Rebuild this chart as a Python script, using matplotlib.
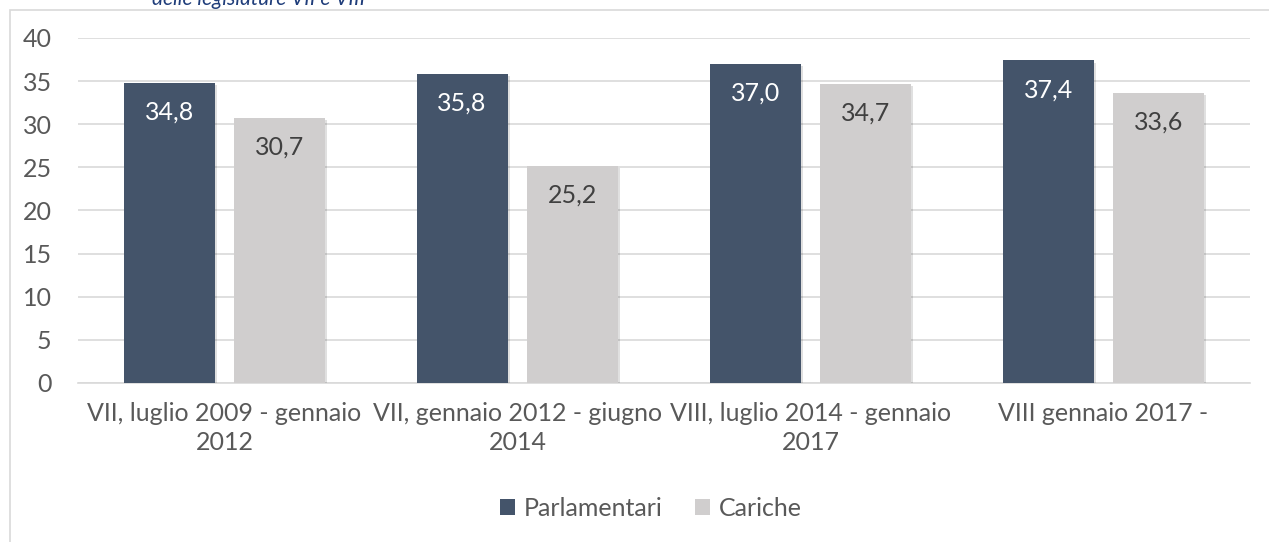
import matplotlib.pyplot as plt
import matplotlib.patheffects as pe
from matplotlib.patches import Rectangle
import numpy as np

categories = ["VII, luglio 2009 - gennaio\n2012",
              "VII, gennaio 2012 - giugno\n2014",
              "VIII, luglio 2014 - gennaio\n2017",
              "VIII gennaio 2017 -"]
parlamentari = [34.8, 35.8, 37.0, 37.4]
cariche = [30.7, 25.2, 34.7, 33.6]
series_names = ["Parlamentari", "Cariche"]
yticks = [0, 5, 10, 15, 20, 25, 30, 35, 40]

plt.rcParams['font.family'] = ['Lato', 'DejaVu Sans']

W, H = 1269, 542
fig = plt.figure(figsize=(W / 100, H / 100), dpi=100)

# outer chart-area border
fig.patches.append(Rectangle((10 / W, -0.05), 1.2, 1 - 10 / H + 0.05,
                             transform=fig.transFigure, fill=False,
                             edgecolor='#d9d9d9', linewidth=1.2))

# heading running off the top edge
fig.text(152 / W, 1 - 5 / H, "delle legislature VII e VIII", fontsize=15,
         style='italic', color='#1f3d7a', ha='left', va='baseline')

ax = fig.add_axes([78 / W, 1 - 383 / H, (1250 - 78) / W, (383 - 38) / H])

dark = '#44546a'
light = '#d0cece'
txt = '#595959'
fs = 18
x = np.arange(len(categories))
bw = 0.31
gap = 0.068
off = (bw + gap) / 2
shadow = [pe.SimplePatchShadow(offset=(1.5, -1.5), shadow_rgbFace='#000000', alpha=0.12), pe.Normal()]

b1 = ax.bar(x - off, parlamentari, bw, color=dark, label=series_names[0], zorder=3,
            path_effects=shadow)
b2 = ax.bar(x + off, cariche, bw, color=light, label=series_names[1], zorder=3,
            path_effects=shadow)

for bars, vals, col in [(b1, parlamentari, 'white'), (b2, cariche, '#404040')]:
    for r, v in zip(bars, vals):
        ax.annotate(f"{v:.1f}".replace('.', ','),
                    (r.get_x() + r.get_width() / 2, v),
                    xytext=(0, -21), textcoords='offset points',
                    ha='center', va='center', fontsize=fs, color=col, zorder=4)

ax.set_xlim(-0.5, len(categories) - 0.5)
ax.set_ylim(0, 40)
ax.set_yticks(yticks)
ax.set_yticklabels([str(t) for t in yticks])
ax.set_xticks(x)
ax.set_xticklabels(categories, linespacing=1.3)
ax.tick_params(axis='both', length=0, labelsize=fs, labelcolor=txt)
ax.tick_params(axis='y', pad=19)
ax.tick_params(axis='x', pad=14)
ax.grid(axis='y', color='#d9d9d9', linewidth=1.2, zorder=0)
ax.set_axisbelow(True)
for s in ['top', 'right', 'left']:
    ax.spines[s].set_visible(False)
ax.spines['bottom'].set_color('#d9d9d9')
ax.spines['bottom'].set_linewidth(1.2)

leg = fig.legend(handles=[b1, b2], labels=series_names, loc='center',
                 bbox_to_anchor=(651 / W, 1 - 508 / H), ncol=2, frameon=False,
                 fontsize=fs, handlelength=0.6, handleheight=0.6,
                 handletextpad=0.35, columnspacing=1.3)
for t in leg.get_texts():
    t.set_color(txt)
for h in leg.legend_handles:
    h.set_path_effects([])

fig.savefig('out.png', dpi=100)
